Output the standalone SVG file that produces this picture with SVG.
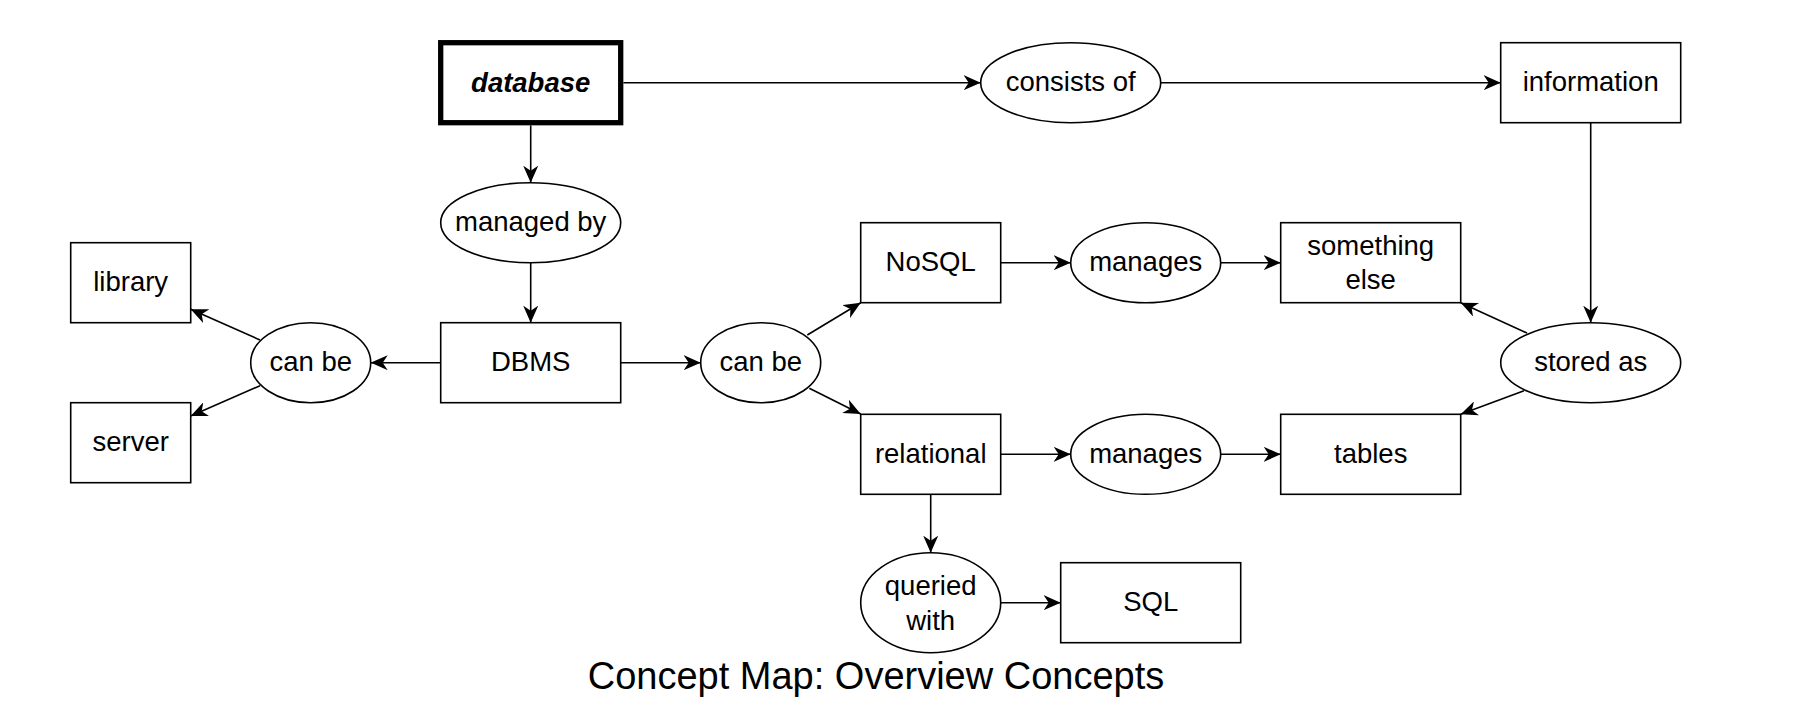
<svg xmlns="http://www.w3.org/2000/svg" width="1798" height="728" viewBox="0 0 1798 728">
<style>
.box{fill:#fff;stroke:#000;stroke-width:1.6}
.thick{fill:#fff;stroke:#000;stroke-width:5.3}
.lbl{font-family:"Liberation Sans",Helvetica,Arial,sans-serif;font-size:27.5px;fill:#000;text-anchor:middle}
.bi{font-weight:bold;font-style:italic}
.edge{fill:none;stroke:#000;stroke-width:1.6;marker-end:url(#arr)}
.title{font-family:"Liberation Sans",Helvetica,Arial,sans-serif;font-size:38px;fill:#000;text-anchor:middle}
</style>
<defs>
<marker id="arr" markerUnits="userSpaceOnUse" markerWidth="17" markerHeight="15" refX="17" refY="7.5" orient="auto">
<path d="M17,7.5 L0,0 L5,7.5 L0,15 Z" fill="#000"/>
</marker>
</defs>
<rect width="1798" height="728" fill="#fff"/>
<g id="connectors">
<path class="edge" d="M623.4,82.7 L980.7,82.7"/>
<path class="edge" d="M1160.7,82.7 L1500.7,82.7"/>
<path class="edge" d="M530.7,125.4 L530.7,182.7"/>
<path class="edge" d="M530.7,262.7 L530.7,322.7"/>
<path class="edge" d="M440.7,362.7 L370.7,362.7"/>
<path class="edge" d="M260,340 L190.7,309.3"/>
<path class="edge" d="M260,385.7 L190.7,416"/>
<path class="edge" d="M620.7,362.7 L700.7,362.7"/>
<path class="edge" d="M807.3,335 L860.7,302.7"/>
<path class="edge" d="M809.3,388.3 L860.7,414"/>
<path class="edge" d="M1000.7,262.7 L1070.7,262.7"/>
<path class="edge" d="M1220.7,262.7 L1280.7,262.7"/>
<path class="edge" d="M1000.7,454.3 L1070.7,454.3"/>
<path class="edge" d="M1220.7,454.3 L1280.7,454.3"/>
<path class="edge" d="M1590.7,122.7 L1590.7,322.7"/>
<path class="edge" d="M1527,333 L1460.7,302.7"/>
<path class="edge" d="M1524,390.7 L1460.7,414.3"/>
<path class="edge" d="M930.7,494.3 L930.7,552.7"/>
<path class="edge" d="M1000.7,602.7 L1060.7,602.7"/>
</g>
<g id="database"><rect class="thick" x="440.7" y="42.7" width="180" height="80"/><text class="lbl bi" x="530.7" y="91.5">database</text></g>
<g id="consists-of"><ellipse class="box" cx="1070.7" cy="82.7" rx="90" ry="40"/><text class="lbl" x="1070.7" y="91.2">consists of</text></g>
<g id="information"><rect class="box" x="1500.7" y="42.7" width="180" height="80"/><text class="lbl" x="1590.7" y="91.2">information</text></g>
<g id="managed-by"><ellipse class="box" cx="530.7" cy="222.7" rx="90" ry="40"/><text class="lbl" x="530.7" y="231.2">managed by</text></g>
<g id="dbms"><rect class="box" x="440.7" y="322.7" width="180" height="80"/><text class="lbl" x="530.7" y="371.2">DBMS</text></g>
<g id="can-be-left"><ellipse class="box" cx="310.7" cy="362.7" rx="60" ry="40"/><text class="lbl" x="310.7" y="371.2">can be</text></g>
<g id="library"><rect class="box" x="70.7" y="242.7" width="120" height="80"/><text class="lbl" x="130.7" y="291.2">library</text></g>
<g id="server"><rect class="box" x="70.7" y="402.7" width="120" height="80"/><text class="lbl" x="130.7" y="451.2">server</text></g>
<g id="can-be-right"><ellipse class="box" cx="760.7" cy="362.7" rx="60" ry="40"/><text class="lbl" x="760.7" y="371.2">can be</text></g>
<g id="nosql"><rect class="box" x="860.7" y="222.7" width="140" height="80"/><text class="lbl" x="930.7" y="271.2">NoSQL</text></g>
<g id="relational"><rect class="box" x="860.7" y="414.3" width="140" height="80"/><text class="lbl" x="930.7" y="462.8">relational</text></g>
<g id="manages-top"><ellipse class="box" cx="1145.7" cy="262.7" rx="75" ry="40"/><text class="lbl" x="1145.7" y="271.2">manages</text></g>
<g id="manages-bottom"><ellipse class="box" cx="1145.7" cy="454.3" rx="75" ry="40"/><text class="lbl" x="1145.7" y="462.8">manages</text></g>
<g id="something-else"><rect class="box" x="1280.7" y="222.7" width="180" height="80"/><text class="lbl" x="1370.7" y="255">something</text><text class="lbl" x="1370.7" y="289.3">else</text></g>
<g id="tables"><rect class="box" x="1280.7" y="414.3" width="180" height="80"/><text class="lbl" x="1370.7" y="462.8">tables</text></g>
<g id="stored-as"><ellipse class="box" cx="1590.7" cy="362.7" rx="90" ry="40"/><text class="lbl" x="1590.7" y="371.2">stored as</text></g>
<g id="queried-with"><ellipse class="box" cx="930.7" cy="602.7" rx="70" ry="50"/><text class="lbl" x="930.7" y="595.3">queried</text><text class="lbl" x="930.7" y="629.5">with</text></g>
<g id="sql"><rect class="box" x="1060.7" y="562.7" width="180" height="80"/><text class="lbl" x="1150.7" y="611.2">SQL</text></g>
<text class="title" x="876" y="689.3">Concept Map: Overview Concepts</text>
</svg>
